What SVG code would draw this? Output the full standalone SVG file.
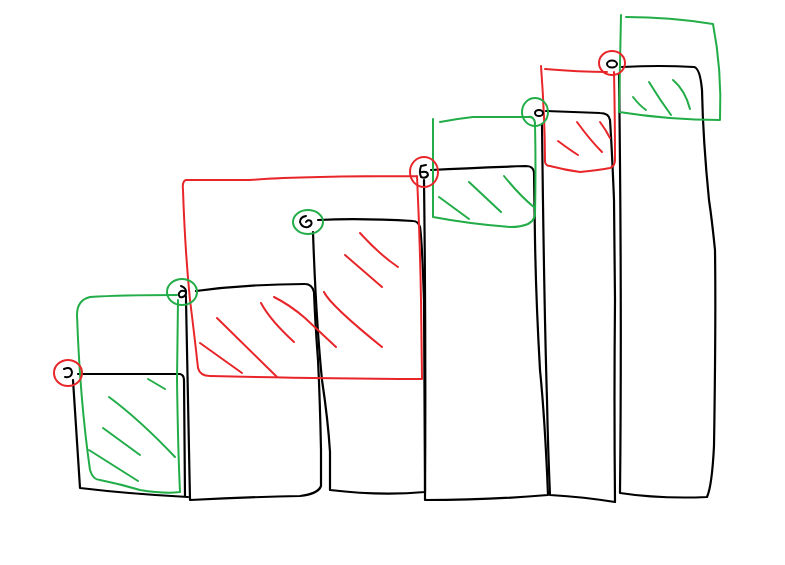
<svg xmlns="http://www.w3.org/2000/svg" width="785" height="565" viewBox="0 0 785 565">
<style>
path,circle,ellipse{fill:none;stroke-linecap:round;stroke-linejoin:round}
.k{stroke:#000;stroke-width:2.2}
.r{stroke:#e8262a;stroke-width:2}
.g{stroke:#22ad48;stroke-width:2}
.m{stroke:#000;stroke-width:2}
</style>
<rect width="785" height="565" fill="#fff"/>
<g id="bars">
<g id="bar1"><path class="k" d="M73,380 L80,488 Q130,494 188,497 M78,374 L180,374 Q184,375 184,380 L185,497"/></g>
<g id="bar2"><path class="k" d="M186,300 Q188,400 190,500 Q250,497 300,496 Q318,494 321,486 L321,450 Q320,400 318,360 Q315,320 314,292 Q312,284 305,284 Q250,284 196,291"/></g>
<g id="bar3"><path class="k" d="M313,232 Q316,320 322,380 Q328,420 330,452 L330,490 Q380,496 425,492 L424,300 Q422,240 420,227 Q418,221 413,221 Q360,218 318,220"/></g>
<g id="bar4"><path class="k" d="M424,180 Q426,340 425,500 Q490,500 548,495 Q545,420 540,370 Q536,300 535,240 L534,172 Q533,166 526,166 Q470,168 431,170"/></g>
<g id="bar5"><path class="k" d="M542,124 Q544,300 547,400 Q548,450 550,495 Q585,497 615,502 Q614,400 615,300 L614,200 Q612,150 610,120 Q609,113 600,113 L546,111"/></g>
<g id="bar6"><path class="k" d="M619,74 Q622,300 620,493 Q660,499 707,497 Q712,486 714,446 Q716,320 715,250 Q712,220 709,200 Q703,140 702,90 Q700,68 694,67 Q660,65 622,67"/></g>
</g>
<g id="box1"><path class="g" d="M177,295 Q120,295 90,297 Q77,300 77,315 Q80,400 90,470 Q93,480 100,480 Q120,484 140,490 Q165,494 180,492 Q178,450 177,380 L178,300"/>
<path class="g" d="M148,379 L165,389 M109,397 Q140,420 175,457 M103,428 L140,455 M89,450 L138,481"/></g>
<g id="box2"><path class="r" d="M417,176 Q300,176 250,180 Q200,180 186,180 Q182,181 183,190 Q185,250 190,300 Q195,340 198,368 Q200,376 210,376 Q300,378 422,379 L421,300 Q420,240 417,176"/>
<path class="r" d="M200,343 L242,373 M217,318 L277,377 M261,303 Q270,320 294,342 M274,297 Q290,305 305,318 Q320,332 336,347 M324,292 Q330,305 382,347 M345,255 L382,287 M360,233 Q380,255 398,267"/></g>
<g id="box3"><path class="g" d="M433,119 L433,217 Q470,224 510,227 Q533,227 535,215 Q536,170 535,123 Q534,116 528,117 Q500,117 473,117 Q455,119 440,122"/>
<path class="g" d="M439,197 L469,219 M469,182 L501,212 M504,176 Q520,196 535,208"/></g>
<g id="box5"><path class="r" d="M541,66 Q545,120 545,162 Q546,166 550,166 Q565,170 580,172 Q600,170 610,168 Q615,166 615,160 Q615,120 614,72 M545,69 Q580,72 607,72"/>
<path class="r" d="M558,141 Q570,150 578,155 M577,122 Q590,140 602,152 M600,122 Q606,130 610,138"/></g>
<g id="box6"><path class="g" d="M621,15 L619,112 Q670,120 720,120 Q722,70 713,24 Q670,17 626,17"/>
<path class="g" d="M633,97 Q640,106 646,110 M649,82 Q660,100 671,115 M673,80 Q685,90 690,109"/></g>
<g id="markers">
<g id="m0"><ellipse class="r" cx="68" cy="373" rx="14" ry="13"/><path class="m" d="M64,369 Q71,366 72,372 Q72,378 65,377"/></g>
<g id="m1"><ellipse class="g" cx="182" cy="292" rx="15" ry="13"/><path class="m" d="M181,286 Q187,288 186,294 Q184,298 180,297 Q177,294 181,291 Q184,290 186,292 M186,296 L186,300"/></g>
<g id="m2"><ellipse class="g" cx="308" cy="222" rx="15" ry="12"/><path class="m" d="M306,216 Q300,217 300,222 Q302,228 308,227 Q313,225 311,221 Q308,219 306,222"/></g>
<g id="m3"><ellipse class="r" cx="424" cy="172" rx="14" ry="15"/><path class="m" d="M426,165 L421,166 Q419,172 421,177 Q426,179 428,175 Q428,171 422,172"/></g>
<g id="m4"><ellipse class="g" cx="535" cy="112" rx="13" ry="14"/><ellipse class="m" cx="539" cy="113" rx="4" ry="3"/></g>
<g id="m5"><ellipse class="r" cx="612" cy="63" rx="13" ry="12"/><ellipse class="m" cx="612" cy="64" rx="5" ry="3.5"/></g>
</g>
<circle cx="752" cy="283" r="0.8" fill="#333"/>
</svg>
